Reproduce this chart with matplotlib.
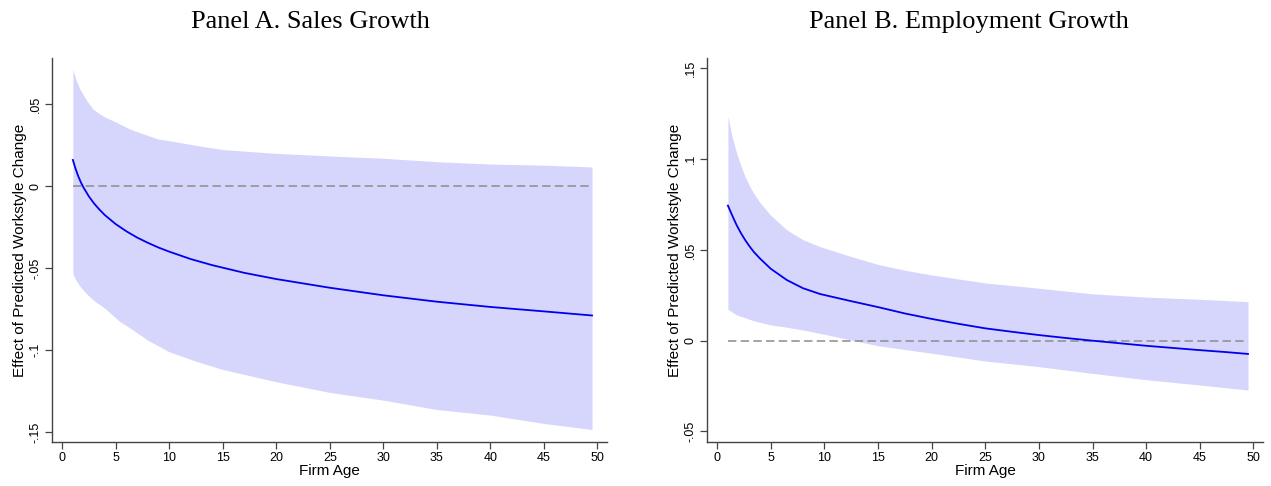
import numpy as np
import matplotlib
matplotlib.use("Agg")
from matplotlib import pyplot as plt

plt.rcParams['font.family'] = ['Liberation Sans', 'DejaVu Sans']

# Panel A: sales growth
age_a = [1, 1.25, 1.5, 1.75, 2, 2.5, 3, 3.5, 4, 5, 6, 7, 8, 9, 10, 12, 14, 17,
         20, 25, 30, 35, 40, 45, 49.5]
fit_a = [0.0159, 0.0105, 0.0060, 0.0022, -0.0010, -0.0064, -0.0108, -0.0145,
         -0.0178, -0.0232, -0.0276, -0.0314, -0.0346, -0.0375, -0.0400, -0.0445,
         -0.0482, -0.0529, -0.0567, -0.0620, -0.0666, -0.0705, -0.0737, -0.0764,
         -0.0789]
ub_age_a = [1, 1.3, 1.7, 2.3, 2.9, 3.5, 4, 5, 6.4, 8.9, 10, 13.2, 15, 20, 25, 30,
            35, 40, 45, 49.5]
ub_a = [0.0711, 0.0645, 0.0585, 0.0520, 0.0468, 0.0440, 0.0420, 0.0390, 0.0345,
        0.0287, 0.0276, 0.0240, 0.0222, 0.0199, 0.0183, 0.0169, 0.0148, 0.0134,
        0.0127, 0.0116]
lb_age_a = [1, 1.3, 1.7, 2.3, 2.9, 4, 5.4, 6.4, 8, 10, 12.5, 15, 20, 25, 30, 35,
            40, 45, 49.5]
lb_a = [-0.0537, -0.0575, -0.0614, -0.0658, -0.0695, -0.0746, -0.0827, -0.0868,
        -0.0940, -0.1010, -0.1068, -0.1118, -0.1193, -0.1258, -0.1305, -0.1362,
        -0.1396, -0.1447, -0.1484]

# Panel B: employment growth
age_b = [1, 1.4, 1.8, 2.2, 2.6, 3, 3.4, 4, 5, 6.5, 8, 9.6, 12.4, 15, 17.5, 20,
         22.5, 25, 27.5, 30, 32.5, 35, 37.5, 40, 42.5, 45, 47.5, 49.5]
fit_b = [0.0744, 0.0690, 0.0638, 0.0594, 0.0555, 0.0521, 0.0490, 0.0452, 0.0396,
         0.0334, 0.0289, 0.0257, 0.0219, 0.0185, 0.0150, 0.0120, 0.0093, 0.0068,
         0.0049, 0.0031, 0.0015, 0.0, -0.0014, -0.0028, -0.0040, -0.0052,
         -0.0063, -0.0073]
ub_age_b = [1, 1.4, 1.8, 2.2, 2.6, 3, 3.4, 4, 5, 6.5, 8, 9.6, 12.4, 15, 17.5, 20,
            25, 30, 35, 40, 45, 49.5]
ub_b = [0.1235, 0.1120, 0.1035, 0.0965, 0.0903, 0.0855, 0.0812, 0.0760, 0.0690,
        0.0610, 0.0556, 0.0518, 0.0465, 0.0420, 0.0388, 0.0362, 0.0318, 0.0289,
        0.0258, 0.0240, 0.0228, 0.0215]
lb_age_b = [1, 1.8, 3.4, 5, 6.5, 8, 9.6, 12.4, 15, 20, 25, 30, 35, 40, 45, 49.5]
lb_b = [0.0173, 0.0142, 0.0110, 0.0087, 0.0074, 0.0059, 0.0040, 0.0005, -0.0028,
        -0.0069, -0.0112, -0.0143, -0.0180, -0.0215, -0.0244, -0.0272]

xticks = list(range(0, 55, 5))
yticks_a = [-0.15, -0.1, -0.05, 0, 0.05]
ylabels_a = ['-.15', '-.1', '-.05', '0', '.05']
yticks_b = [-0.05, 0, 0.05, 0.1, 0.15]
ylabels_b = ['-.05', '0', '.05', '.1', '.15']

W, H = 1271, 486
fig = plt.figure(figsize=(W / 100, H / 100), dpi=100)

band_col = '#d6d6fd'
line_col = '#0000ee'
axis_col = '#444444'


def panel(left, width, age, fit, ua, ub, la, lb, yt, yl, ylim, title, tx):
    ax = fig.add_axes([left / W, 44 / H, width / W, 384 / H])
    # common grid for the band from the read bounds
    grid = np.union1d(ua, la)
    upper = np.interp(grid, ua, ub)
    lower = np.interp(grid, la, lb)
    ax.fill_between(grid, lower, upper, color=band_col, lw=0)
    ax.plot([age[0], age[-1]], [0, 0], color='#8c8c8c', lw=1.1, dashes=(5.5, 2.8))
    ax.plot(age, fit, color=line_col, lw=1.3)
    ax.set_xlim(-0.95, 50.9)
    ax.set_ylim(*ylim)
    ax.set_xticks(xticks)
    ax.set_xticklabels([str(t) for t in xticks], fontsize=9)
    ax.set_yticks(yt)
    ax.set_yticklabels(yl, fontsize=9, rotation=90, va='center')
    for s in ['top', 'right']:
        ax.spines[s].set_visible(False)
    for s in ['left', 'bottom']:
        ax.spines[s].set_color(axis_col)
        ax.spines[s].set_linewidth(1.0)
    ax.tick_params(colors='black', length=5, width=0.9, pad=2.5)
    ax.tick_params(axis='both', color=axis_col)
    ax.set_xlabel('Firm Age', fontsize=11, labelpad=0)
    ax.set_ylabel('Effect of Predicted Workstyle Change', fontsize=11, labelpad=2)
    fig.text(tx / W, 1 - 22 / H, title, ha='center', va='center',
             fontsize=19, family=['Liberation Serif', 'DejaVu Serif'])
    return ax


panel(52, 555, age_a, fit_a, ub_age_a, ub_a, lb_age_a, lb_a,
      yticks_a, ylabels_a, (-0.156, 0.078), 'Panel A. Sales Growth', 310)
panel(707, 556, age_b, fit_b, ub_age_b, ub_b, lb_age_b, lb_b,
      yticks_b, ylabels_b, (-0.0558, 0.1557), 'Panel B. Employment Growth', 969)

fig.savefig('out.png', dpi=100)
